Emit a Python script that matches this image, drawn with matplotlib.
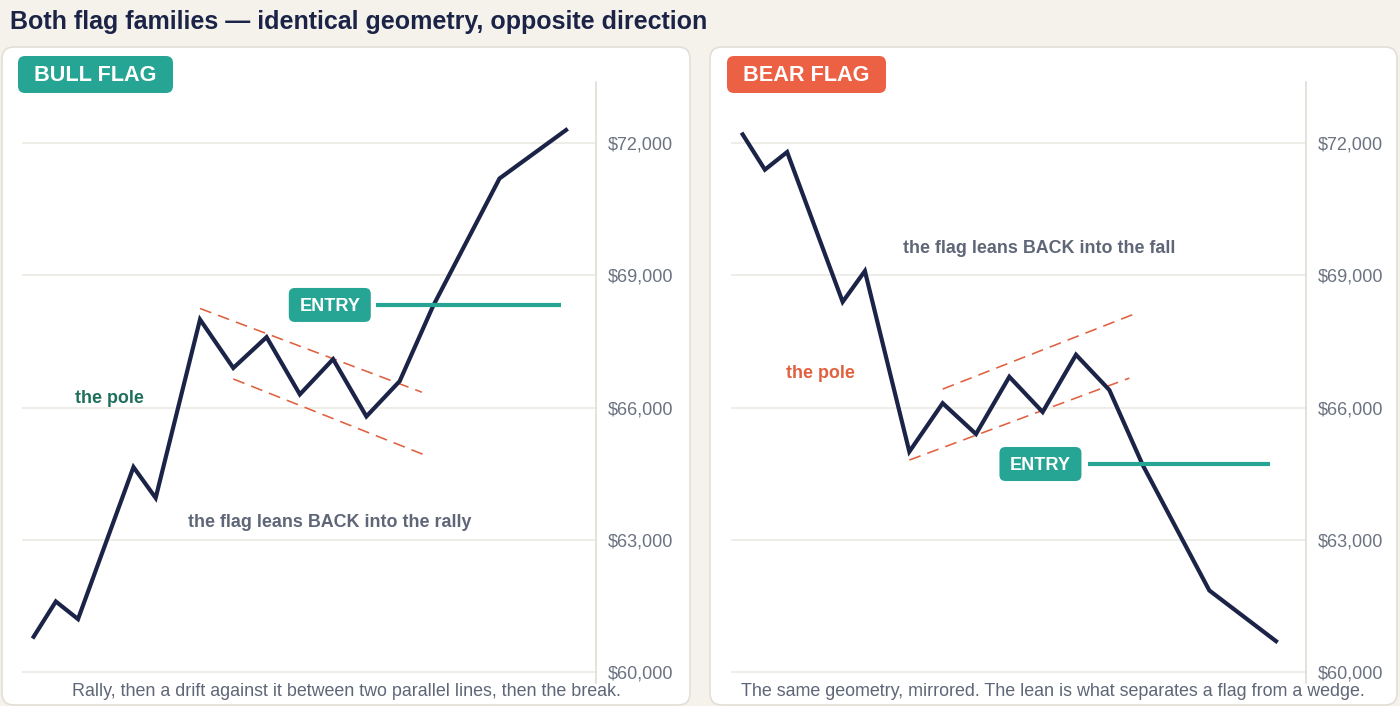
import matplotlib
matplotlib.use("Agg")
import matplotlib.pyplot as plt
from matplotlib.patches import FancyBboxPatch
from matplotlib.transforms import IdentityTransform

plt.rcParams['font.family'] = ['Liberation Sans', 'DejaVu Sans']

# ---------------- data ----------------
days = [0, 2, 4, 9, 11, 15, 18, 21, 24, 27, 30, 33, 36, 42, 48]
price_bull = [60800, 61600, 61200, 64650, 63950, 68000, 66900, 67600,
              66300, 67100, 65800, 66600, 68300, 71200, 72300]
price_bear = [72200, 71400, 71800, 68400, 69100, 65000, 66100, 65400,
              66700, 65900, 67200, 66400, 64700, 61850, 60700]

bull_upper_x, bull_upper_y = [15, 35], [68250, 66350]
bull_lower_x, bull_lower_y = [18, 35.5], [66650, 64900]
bear_upper_x, bear_upper_y = [18, 35.2], [66420, 68120]
bear_lower_x, bear_lower_y = [15, 34.8], [64810, 66670]

entry_bull = 68330
entry_bear = 64720
entry_bull_x = [30.9, 47.5]
entry_bear_x = [31.1, 47.5]

yticks = [60000, 63000, 66000, 69000, 72000]
ytick_labels = ['$60,000', '$63,000', '$66,000', '$69,000', '$72,000']

title = 'Both flag families \u2014 identical geometry, opposite direction'
panel_labels = ['BULL FLAG', 'BEAR FLAG']
captions = ['Rally, then a drift against it between two parallel lines, then the break.',
            'The same geometry, mirrored. The lean is what separates a flag from a wedge.']

# ---------------- style ----------------
BG = '#f5f2ec'
NAVY = '#1b2447'
TEAL = '#27a594'
CORAL = '#ec6044'
DASH = '#e0603f'
GRAY_TXT = '#5f6677'
TICK_TXT = '#6b7280'
GRID = '#ebe8e2'
SPINE = '#dedad2'
GREEN_TXT = '#1e6f5c'

fig = plt.figure(figsize=(14, 7.06), dpi=100)
fig.patch.set_facecolor(BG)

bg = fig.add_axes([0, 0, 1, 1])
bg.set_xlim(0, 1400)
bg.set_ylim(706, 0)
bg.axis('off')
bg.set_zorder(0)

bg.text(10, 22, title, fontsize=18, fontweight='bold', color=NAVY,
        ha='left', va='center')

cards = [(2, 47, 688, 658), (710, 47, 687, 658)]
for (x0, y0, w, h) in cards:
    bg.add_patch(FancyBboxPatch((x0, y0), w, h,
                                boxstyle='round,pad=0,rounding_size=12',
                                facecolor='white', edgecolor='#e3dfd6', lw=1.2))

badges = [(18, 56, 155, 37, TEAL), (727, 56, 159, 37, CORAL)]
for (x0, y0, w, h, c), lab in zip(badges, panel_labels):
    bg.add_patch(FancyBboxPatch((x0, y0), w, h,
                                boxstyle='round,pad=0,rounding_size=7',
                                facecolor=c, edgecolor='none'))
    bg.text(x0 + w / 2, y0 + h / 2 + 1, lab, color='white', fontsize=15.6,
            fontweight='bold', ha='center', va='center')

for cx, cap in zip([346, 1053], captions):
    bg.text(cx, 691, cap, color=GRAY_TXT, fontsize=12.9, ha='center', va='center')

W, H = 1400, 706
axes_px = [(22, 596), (731, 1306)]
top_px, bot_px = 82, 683


def setup(ax):
    ax.set_facecolor('none')
    ax.set_xlim(-1.05, 50.7)
    ax.set_ylim(59750, 73390)
    ax.set_yticks(yticks)
    ax.set_yticklabels(ytick_labels)
    ax.set_xticks([])
    ax.yaxis.tick_right()
    ax.tick_params(axis='y', length=0, pad=8.5, labelsize=13, labelcolor=TICK_TXT)
    for s in ['left', 'top', 'bottom']:
        ax.spines[s].set_visible(False)
    ax.spines['right'].set_color(SPINE)
    ax.spines['right'].set_linewidth(1.1)
    ax.grid(axis='y', color=GRID, lw=1.1)
    ax.set_axisbelow(True)


def entry_badge(ax, x, y):
    dx, dy = ax.transData.transform((x, y))
    ax.add_patch(FancyBboxPatch((dx - 41, dy - 17), 82, 34,
                                boxstyle='round,pad=0,rounding_size=6',
                                facecolor=TEAL, edgecolor='none',
                                transform=IdentityTransform(), zorder=4))
    ax.annotate('ENTRY', (x, y), xytext=(0, -1.2), textcoords='offset points',
                color='white', fontsize=13.1, fontweight='bold',
                ha='center', va='center', zorder=5)


axs = []
for (l, r) in axes_px:
    ax = fig.add_axes([l / W, 1 - bot_px / H, (r - l) / W, (bot_px - top_px) / H])
    ax.set_zorder(1)
    setup(ax)
    axs.append(ax)

LW = 3.0
# ---- bull ----
ax = axs[0]
ax.plot(bull_upper_x, bull_upper_y, color=DASH, lw=1.15, dashes=(7.5, 4.5), zorder=2)
ax.plot(bull_lower_x, bull_lower_y, color=DASH, lw=1.15, dashes=(7.5, 4.5), zorder=2)
ax.plot(days, price_bull, color=NAVY, lw=LW, solid_joinstyle='miter', zorder=3)
ax.plot(entry_bull_x, [entry_bull, entry_bull], color=TEAL, lw=3.0,
        solid_capstyle='butt', zorder=3)
entry_badge(ax, 26.7, entry_bull)
ax.text(6.85, 66200, 'the pole', color=GREEN_TXT, fontsize=12.9, fontweight='bold',
        ha='center', va='center')
ax.text(26.7, 63400, 'the flag leans BACK into the rally', color=GRAY_TXT,
        fontsize=12.9, fontweight='bold', ha='center', va='center')

# ---- bear ----
ax = axs[1]
ax.plot(bear_upper_x, bear_upper_y, color=DASH, lw=1.15, dashes=(7.5, 4.5), zorder=2)
ax.plot(bear_lower_x, bear_lower_y, color=DASH, lw=1.15, dashes=(7.5, 4.5), zorder=2)
ax.plot(days, price_bear, color=NAVY, lw=LW, solid_joinstyle='miter', zorder=3)
ax.plot(entry_bear_x, [entry_bear, entry_bear], color=TEAL, lw=3.0,
        solid_capstyle='butt', zorder=3)
entry_badge(ax, 26.8, entry_bear)
ax.text(7.0, 66780, 'the pole', color=DASH, fontsize=12.9, fontweight='bold',
        ha='center', va='center')
ax.text(26.7, 69620, 'the flag leans BACK into the fall', color=GRAY_TXT,
        fontsize=12.9, fontweight='bold', ha='center', va='center')

fig.savefig('out.png', dpi=100, facecolor=BG)
